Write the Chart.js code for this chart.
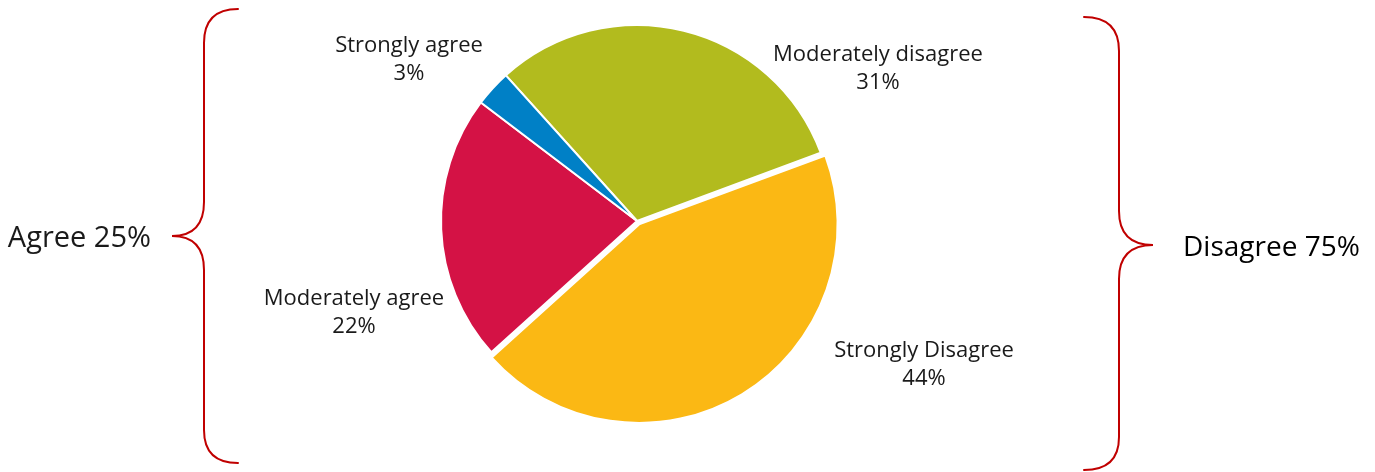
<!DOCTYPE html>
<html>
<head>
<meta charset="utf-8">
<script src="https://cdn.jsdelivr.net/npm/chart.js@4/dist/chart.umd.min.js"></script>
<style>
  html, body { margin: 0; padding: 0; background: #fff; }
  #wrap { width: 1375px; height: 472px; position: relative; }
</style>
</head>
<body>
<div id="wrap"><canvas id="chart"></canvas></div>
<script>
// Data
const categories = ["Moderately disagree", "Strongly Disagree", "Moderately agree", "Strongly agree"]
const shares = [31, 44, 22, 3]
const sliceColors = ["#B2BB1E", "#FBB814", "#D41245", "#0080C6"]
const groupLabels = ["Agree 25%", "Disagree 75%"]

// where each slice label sits, relative to the pie centre
const labelShift = [
  { dx: 241, dy: -160 },
  { dx: 287, dy: 136 },
  { dx: -283, dy: 84 },
  { dx: -228, dy: -169 },
]

const labelFont = "22px 'Open Sans', sans-serif"

const sliceLabels = {
  id: "sliceLabels",
  afterDatasetsDraw(chart) {
    const ctx = chart.ctx
    const arcs = chart.getDatasetMeta(0).data
    const cx = arcs[0].x
    const cy = arcs[0].y
    ctx.save()
    ctx.font = labelFont
    ctx.fillStyle = "#1a1a1a"
    ctx.textAlign = "center"
    ctx.textBaseline = "alphabetic"
    categories.forEach((name, i) => {
      const p = labelShift[i]
      ctx.fillText(name, cx + p.dx, cy + p.dy)
      ctx.fillText(shares[i] + "%", cx + p.dx, cy + p.dy + 28)
    })
    ctx.restore()
  },
}

// red curly braces with the group totals
const braces = {
  id: "braces",
  afterDraw(chart) {
    const ctx = chart.ctx
    ctx.save()
    ctx.strokeStyle = "#C00000"
    ctx.lineWidth = 2
    ctx.lineCap = "round"

    // left brace, pointing left
    ctx.beginPath()
    ctx.moveTo(238, 9)
    ctx.quadraticCurveTo(204, 9, 204, 43)
    ctx.lineTo(204, 202)
    ctx.quadraticCurveTo(204, 236, 172, 236)
    ctx.quadraticCurveTo(204, 236, 204, 270)
    ctx.lineTo(204, 430)
    ctx.quadraticCurveTo(204, 463, 238, 463)
    ctx.stroke()

    // right brace, pointing right
    ctx.beginPath()
    ctx.moveTo(1084, 17)
    ctx.quadraticCurveTo(1119, 17, 1119, 51)
    ctx.lineTo(1119, 211)
    ctx.quadraticCurveTo(1119, 245, 1153, 245)
    ctx.quadraticCurveTo(1119, 245, 1119, 279)
    ctx.lineTo(1119, 437)
    ctx.quadraticCurveTo(1119, 470, 1084, 470)
    ctx.stroke()

    ctx.font = "29px 'Open Sans', sans-serif"
    ctx.textBaseline = "alphabetic"
    ctx.fillStyle = "#1a1a1a"
    ctx.textAlign = "right"
    ctx.fillText(groupLabels[0], 151, 247)
    ctx.fillStyle = "#000"
    ctx.textAlign = "left"
    ctx.font = "500 28px 'Open Sans', sans-serif"
    ctx.fillText(groupLabels[1], 1183, 256)
    ctx.restore()
  },
}

new Chart(document.getElementById("chart"), {
  type: "pie",
  data: {
    labels: categories,
    datasets: [
      {
        data: shares,
        backgroundColor: sliceColors,
        borderColor: "#fff",
        borderWidth: 2,
        offset: [0, 16, 0, 0],
        radius: 196,
      },
    ],
  },
  options: {
    responsive: true,
    maintainAspectRatio: false,
    animation: false,
    rotation: -42,
    layout: {
      padding: { left: 0, right: 101, top: 0, bottom: 30 },
    },
    plugins: {
      legend: { display: false },
      tooltip: { enabled: false },
    },
  },
  plugins: [sliceLabels, braces],
})
</script>
</body>
</html>
